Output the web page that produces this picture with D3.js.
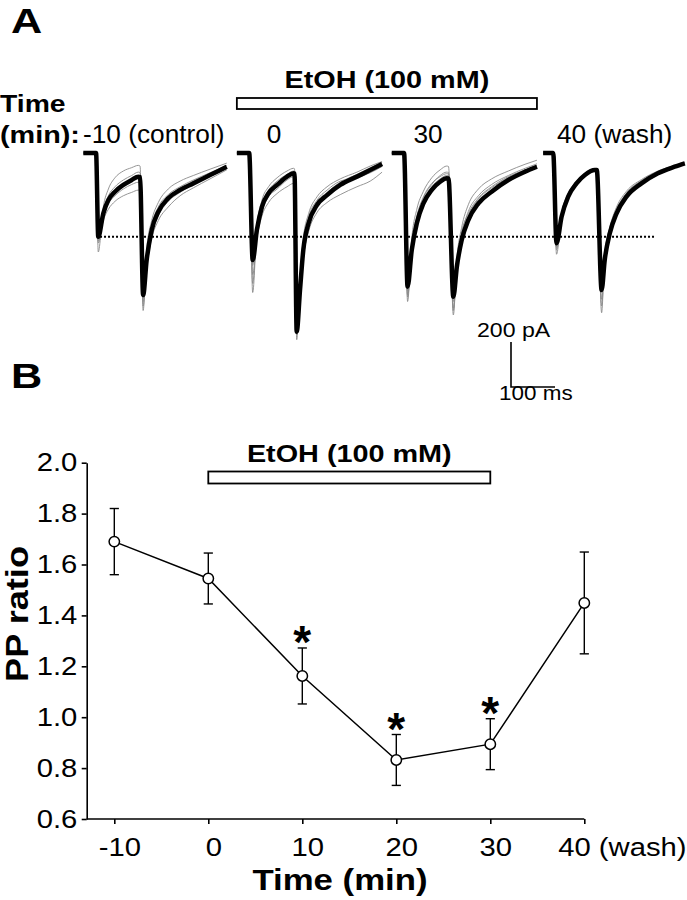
<!DOCTYPE html>
<html><head><meta charset="utf-8">
<script src="https://cdn.jsdelivr.net/npm/d3@7"></script>
<style>html,body{margin:0;padding:0;background:#fff}</style>
</head><body><svg id="c" width="687" height="900"></svg>
<script>
// ================= Panel A data (ms, pA) =================
const sweepLabels = ["-10 (control)", "0", "30", "40 (wash)"];
const sweepStartMs = [0, 349, 701, 1045];

const sweep1Time = [0, 23, 29, 34, 45.5, 57, 72, 91, 110, 125, 129, 136, 144, 155.5, 170.5, 193, 220, 250, 288, 326];
const sweep1Mean = [0, 0, 0, -372, -268, -209, -172, -142, -120, -105, -107, -631, -476, -342, -261, -201, -164, -135, -98, -61];
const sweep1Gray = [
  [0, 0, 0, -440, -240, -160, -110, -80, -65, -55, -58, -700, -430, -300, -220, -160, -125, -100, -72, -45],
  [0, 0, 0, -400, -300, -250, -215, -190, -175, -165, -167, -660, -510, -380, -300, -240, -190, -155, -115, -75],
  [0, 0, 0, -390, -280, -225, -190, -160, -140, -130, -131, -680, -490, -360, -280, -215, -175, -140, -105, -68],
  [0, 0, 0, -380, -255, -190, -150, -120, -100, -85, -87, -645, -460, -320, -240, -185, -150, -120, -88, -55]
];

const sweep2Time = [0, 23, 28, 36, 45.5, 57, 72, 91.5, 114, 129, 131, 136, 143.5, 151, 163, 182, 205, 235, 273, 303, 330];
const sweep2Mean = [0, 0, 0, -476, -342, -239, -179, -142, -105, -90, -91, -794, -609, -431, -312, -231, -187, -142, -105, -76, -49];
const sweep2Gray = [
  [0, 0, 0, -620, -330, -210, -150, -110, -80, -68, -70, -830, -560, -380, -270, -195, -150, -115, -85, -58, -38],
  [0, 0, 0, -540, -380, -280, -220, -180, -150, -135, -136, -810, -640, -470, -350, -265, -220, -185, -150, -125, -85],
  [0, 0, 0, -500, -360, -260, -195, -160, -120, -105, -106, -780, -600, -420, -300, -220, -175, -130, -95, -66, -42],
  [0, 0, 0, -580, -320, -225, -165, -125, -95, -80, -82, -800, -580, -400, -285, -210, -165, -125, -110, -88, -60]
];

const sweep3Time = [0, 23, 28, 36, 45.5, 57, 72, 91, 110, 125, 129, 140, 148, 159, 174, 197, 227, 265, 303, 330];
const sweep3Mean = [0, 0, 0, -594, -431, -312, -224, -164, -128, -112, -113, -639, -505, -387, -298, -224, -172, -120, -83, -61];
const sweep3Gray = [
  [0, 0, 0, -660, -380, -250, -170, -110, -75, -58, -60, -720, -470, -330, -230, -160, -115, -80, -50, -32],
  [0, 0, 0, -630, -410, -290, -200, -140, -100, -85, -87, -690, -490, -360, -260, -190, -140, -100, -68, -48],
  [0, 0, 0, -610, -400, -280, -195, -135, -105, -92, -93, -660, -480, -350, -270, -200, -150, -105, -75, -55],
  [0, 0, 0, -640, -420, -300, -210, -150, -115, -100, -101, -700, -500, -370, -280, -205, -155, -110, -78, -58]
];

const sweep4Time = [0, 19, 23, 30.5, 42, 57, 76, 95, 117.5, 122, 133, 140, 151.6, 167, 189.5, 223.6, 261, 299, 322];
const sweep4Mean = [0, 0, 0, -401, -283, -194, -135, -98, -76, -76, -609, -476, -357, -268, -194, -135, -90, -61, -46];
const sweep4Gray = [
  [0, 0, 0, -450, -270, -180, -125, -90, -70, -71, -710, -450, -330, -240, -170, -118, -80, -55, -40],
  [0, 0, 0, -430, -290, -200, -140, -102, -80, -80, -680, -470, -345, -255, -180, -125, -85, -58, -43],
  [0, 0, 0, -420, -278, -188, -130, -95, -74, -74, -650, -455, -335, -250, -178, -122, -83, -57, -44]
];

const scaleBarPA = 200;
const scaleBarMs = 100;

// ================= Panel B data =================
const timePoints = [-10, 0, 10, 20, 30, 40];
const ppRatio = [1.69, 1.545, 1.162, 0.832, 0.894, 1.449];
const ppSem = [0.13, 0.10, 0.11, 0.10, 0.10, 0.20];
const significant = [false, false, true, true, true, false];
const xTickLabels = ["-10", "0", "10", "20", "30", "40 (wash)"];
const yTicks = [0.6, 0.8, 1.0, 1.2, 1.4, 1.6, 1.8, 2.0];
const ethanolPeriod = [0, 30];

// ================= drawing =================
const FONT = "'Liberation Sans', Arial, Helvetica, sans-serif";
const svg = d3.select("#c");
svg.append("rect").attr("width", 687).attr("height", 900).attr("fill", "#fff");

function label(g, x, y, s, o) {
  let tr = `translate(${x},${y})`;
  if (o.rotate) tr += ` rotate(${o.rotate})`;
  tr += ` scale(${o.sx || 1},1)`;
  return g.append("text")
    .attr("transform", tr)
    .attr("text-anchor", o.anchor || "start")
    .attr("font-family", FONT)
    .attr("font-size", o.size)
    .attr("font-weight", o.bold ? "bold" : "normal")
    .attr("fill", "#000")
    .text(s);
}

// ---------- Panel A ----------
const gA = svg.append("g");
const xA = d3.scaleLinear().domain([0, 1000]).range([83.3, 523.3]);
const yA = d3.scaleLinear().domain([0, -700]).range([153, 310.5]);

const sweeps = [
  { t: sweep1Time, mean: sweep1Mean, gray: sweep1Gray },
  { t: sweep2Time, mean: sweep2Mean, gray: sweep2Gray },
  { t: sweep3Time, mean: sweep3Mean, gray: sweep3Gray },
  { t: sweep4Time, mean: sweep4Mean, gray: sweep4Gray }
].map((s, i) => Object.assign(s, { start: sweepStartMs[i], label: sweepLabels[i] }));

label(gA, 11, 33, "A", { size: 36, bold: true, sx: 1.2 });
label(gA, 0, 112, "Time", { size: 24, bold: true, sx: 1.18 });
label(gA, 0, 143, "(min):", { size: 24, bold: true, sx: 1.2 });

// EtOH bar over sweeps 2-3
const barA0 = xA(sweeps[1].start), barA1 = xA(sweeps[2].start + d3.max(sweeps[2].t));
gA.append("rect").attr("x", barA0).attr("y", 98).attr("width", barA1 - barA0).attr("height", 11)
  .attr("fill", "#fff").attr("stroke", "#000").attr("stroke-width", 1.8);
label(gA, (barA0 + barA1) / 2, 88, "EtOH (100 mM)", { size: 24, bold: true, anchor: "middle", sx: 1.2 });

// sweep labels
const sweepLabelX = [83, 274, 428, 557];
sweeps.forEach((s, i) => {
  label(gA, sweepLabelX[i], 143, s.label, { size: 25, anchor: i === 1 || i === 2 ? "middle" : "start", sx: 1.05 });
});

const lineA = (s) => d3.line()
  .x((d, j) => xA(s.start + s.t[j]))
  .y(d => yA(d))
  .curve(d3.curveMonotoneX);

// gray individual traces
sweeps.forEach(s => {
  gA.append("g").selectAll("path").data(s.gray).join("path")
    .attr("d", d => lineA(s)(d))
    .attr("fill", "none").attr("stroke", "#8a8a8a").attr("stroke-width", 0.9);
});
// dotted reference line at control first peak
const ctrlPeak = d3.min(sweeps[0].mean.slice(0, 10));
gA.append("line")
  .attr("x1", xA(sweeps[0].start + 38)).attr("x2", xA(sweeps[3].start + 253))
  .attr("y1", yA(ctrlPeak)).attr("y2", yA(ctrlPeak))
  .attr("stroke", "#000").attr("stroke-width", 2).attr("stroke-dasharray", "2,2");
// mean traces
sweeps.forEach(s => {
  gA.append("path").attr("d", lineA(s)(s.mean))
    .attr("fill", "none").attr("stroke", "#000").attr("stroke-width", 4.5)
    .attr("stroke-linejoin", "round").attr("stroke-linecap", "butt");
});

// scale bar
const sbX = 511, sbY = 387;
const sbH = yA(-scaleBarPA) - yA(0);
const sbW = xA(scaleBarMs) - xA(0);
gA.append("path").attr("d", `M${sbX},${sbY - sbH}V${sbY}H${sbX + sbW}`)
  .attr("fill", "none").attr("stroke", "#000").attr("stroke-width", 1.6);
label(gA, 477, 337, `${scaleBarPA} pA`, { size: 21, sx: 1.1 });
label(gA, 499, 400, `${scaleBarMs} ms`, { size: 21, sx: 1.07 });

// ---------- Panel B ----------
const gB = svg.append("g");
const xB = d3.scaleLinear().domain([-10, 40]).range([114.3, 584.3]);
const yB = d3.scaleLinear().domain([0.6, 2.0]).range([819, 462.7]);
const axisX0 = 86.7;

label(gB, 11, 388, "B", { size: 36, bold: true, sx: 1.2 });

// y axis
const yAxis = d3.axisLeft(yB).tickValues(yTicks).tickFormat(d3.format(".1f"))
  .tickSize(5).tickSizeOuter(0).tickPadding(3);
const gy = gB.append("g").attr("transform", `translate(${axisX0},0)`).call(yAxis);
gy.select(".domain").attr("stroke-width", 1.6);
gy.selectAll(".tick line").attr("stroke-width", 1.6);
gy.selectAll(".tick text").attr("font-family", FONT).attr("font-size", 25).attr("fill", "#000")
  .attr("transform", "scale(1.17,1)");

// x axis
const xAxis = d3.axisBottom(xB).tickValues(timePoints).tickFormat((d, i) => xTickLabels[i])
  .tickSize(5).tickSizeOuter(0).tickPadding(14);
const gx = gB.append("g").attr("transform", `translate(0,${yB(0.6)})`).call(xAxis);
gx.select(".domain").remove();
gx.append("line").attr("x1", axisX0).attr("x2", xB(40)).attr("y1", 0).attr("y2", 0)
  .attr("stroke", "#000").attr("stroke-width", 1.6);
gx.selectAll(".tick line").attr("stroke-width", 1.6);
gx.selectAll(".tick text").attr("font-family", FONT).attr("font-size", 25).attr("fill", "#000")
  .attr("transform", "translate(5,0) scale(1.17,1)");
gx.selectAll(".tick text").filter((d, i) => i === xTickLabels.length - 1)
  .attr("text-anchor", "start").attr("x", -27);

// axis titles
label(gB, 28, 614, "PP ratio", { size: 32, bold: true, anchor: "middle", rotate: -90, sx: 1.13 });
label(gB, 340, 890, "Time (min)", { size: 30, bold: true, anchor: "middle", sx: 1.16 });

// EtOH bar
const bB0 = xB(ethanolPeriod[0]), bB1 = xB(ethanolPeriod[1]);
gB.append("rect").attr("x", bB0).attr("y", 471.5).attr("width", bB1 - bB0).attr("height", 12)
  .attr("fill", "#fff").attr("stroke", "#000").attr("stroke-width", 1.8);
label(gB, (bB0 + bB1) / 2, 462, "EtOH (100 mM)", { size: 24, bold: true, anchor: "middle", sx: 1.2 });

// data
const pts = timePoints.map((t, i) => ({ t, v: ppRatio[i], e: ppSem[i], sig: significant[i] }));
// error bars
const eb = gB.append("g").attr("stroke", "#000").attr("stroke-width", 1.4);
pts.forEach(p => {
  eb.append("line").attr("x1", xB(p.t)).attr("x2", xB(p.t)).attr("y1", yB(p.v - p.e)).attr("y2", yB(p.v + p.e));
  [p.v - p.e, p.v + p.e].forEach(v => eb.append("line")
    .attr("x1", xB(p.t) - 4.6).attr("x2", xB(p.t) + 4.6).attr("y1", yB(v)).attr("y2", yB(v)));
});
// line
gB.append("path").datum(pts)
  .attr("d", d3.line().x(d => xB(d.t)).y(d => yB(d.v)))
  .attr("fill", "none").attr("stroke", "#000").attr("stroke-width", 1.5);
// circles
gB.append("g").selectAll("circle").data(pts).join("circle")
  .attr("cx", d => xB(d.t)).attr("cy", d => yB(d.v)).attr("r", 5.2)
  .attr("fill", "#fff").attr("stroke", "#000").attr("stroke-width", 1.5);
// significance asterisks
pts.filter(p => p.sig).forEach(p => {
  label(gB, xB(p.t), yB(p.v + p.e) + 10, "*", { size: 46, bold: true, anchor: "middle" });
});
</script>
</body></html>
